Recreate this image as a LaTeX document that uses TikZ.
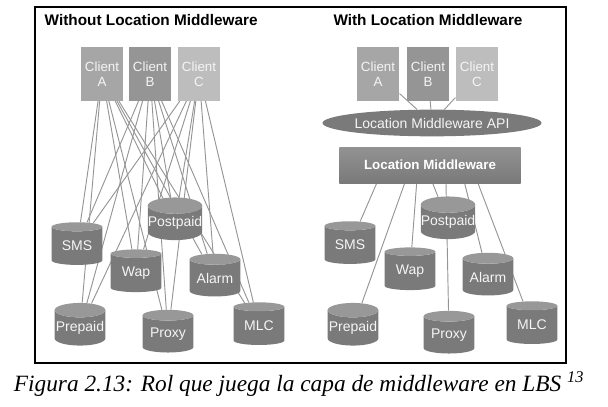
\documentclass[tikz,border=0pt]{standalone}
\usepackage{fontspec}
\setmainfont{Liberation Serif}
\setsansfont{Liberation Sans}
\usetikzlibrary{shapes.geometric, positioning, backgrounds}

\definecolor{clientA}{HTML}{A6A6A6}
\definecolor{clientB}{HTML}{959595}
\definecolor{clientC}{HTML}{BDBDBD}
\definecolor{storebody}{HTML}{7A7A7A}
\definecolor{storetop}{HTML}{989898}
\definecolor{linkgray}{HTML}{959595}

\tikzset{
  client/.style={draw=none, minimum width=32pt, minimum height=40pt, inner sep=0pt,
    align=center, text=white!92!gray, font=\sffamily\fontsize{10}{11.5}\selectfont},
  store/.style={cylinder, shape border rotate=90, aspect=0.3, draw=none,
    minimum width=38pt, minimum height=32pt, inner sep=0pt,
    cylinder uses custom fill, cylinder body fill=storebody, cylinder end fill=storetop,
    text=white!92!gray, font=\sffamily\fontsize{10.5}{11}\selectfont},
  link/.style={draw=linkgray, line width=0.7pt},
  title/.style={font=\sffamily\bfseries\fontsize{11.5}{13}\selectfont}
}

\begin{document}
\begin{tikzpicture}[x=0.75pt, y=-0.75pt]
			\useasboundingbox (0,0) rectangle (608,407);
			% Frame
			\draw[line width=1.1pt] (35,7) rectangle (566,363);
			% Titles
			\node[title, anchor=west] (tleft) at (40,20) {Without Location Middleware};
			\node[title] (tright) at (428,20) {With Location Middleware};

			% Without middleware: clients
			\node[client, fill=clientA] (ca) at (102,74) {Client\\A};
			\node[client, fill=clientB] (cb) at (150,74) {Client\\B};
			\node[client, fill=clientC] (cc) at (199,74) {Client\\C};
			% Without middleware: servers
			\node[store] (sms)   at (77,246)  {SMS};
			\node[store] (post)  at (175,223) {Postpaid};
			\node[store] (wap)   at (136,273) {Wap};
			\node[store] (alarm) at (215,278) {Alarm};
			\node[store] (prep)  at (80,328)  {Prepaid};
			\node[store] (proxy) at (168,334) {Proxy};
			\node[store] (mlc)   at (259,326) {MLC};
			% every client talks to every server
			\begin{pgfonlayer}{background}
				\foreach \c in {ca,cb,cc}
					\foreach \s in {sms,post,wap,alarm,prep,proxy,mlc}
						\draw[link] (\c) -- (\s);
			\end{pgfonlayer}

			% With middleware: clients
			\node[client, fill=clientA] (rca) at (378,74) {Client\\A};
			\node[client, fill=clientB] (rcb) at (428,74) {Client\\B};
			\node[client, fill=clientC] (rcc) at (477,74) {Client\\C};
			% API and middleware layer
			\node[ellipse, fill=storebody, minimum width=130pt, minimum height=20pt, inner sep=0pt,
				text=white!92!gray, font=\sffamily\fontsize{10.5}{11}\selectfont] (api) at (432,123) {Location Middleware API};
			\node[top color=gray!85, bottom color=gray!95!black, minimum width=136pt, minimum height=27pt,
				text=white, font=\sffamily\bfseries\fontsize{10}{11}\selectfont] (mw) at (430,165) {Location Middleware};
			% With middleware: servers
			\node[store] (rsms)   at (350,245) {SMS};
			\node[store] (rpost)  at (448,222) {Postpaid};
			\node[store] (rwap)   at (410,271) {Wap};
			\node[store] (ralarm) at (488,277) {Alarm};
			\node[store] (rprep)  at (353,328) {Prepaid};
			\node[store] (rproxy) at (449,335) {Proxy};
			\node[store] (rmlc)   at (532,325) {MLC};
			\begin{pgfonlayer}{background}
				\foreach \c in {rca,rcb,rcc}
					\draw[link] (\c) -- (api);
				\foreach \s/\dx in {rsms/-40, rprep/-19, rwap/-10, rpost/2, rproxy/12, ralarm/26, rmlc/36}
					\draw[link] ([xshift=\dx pt]mw.south) -- (\s);
			\end{pgfonlayer}

			% Caption
			\node[font=\itshape\fontsize{17.5}{20}\selectfont] (caption) at (299,384)
				{Figura 2.13: Rol que juega la capa de middleware en LBS \textsuperscript{13}};
		\end{tikzpicture}
\end{document}
